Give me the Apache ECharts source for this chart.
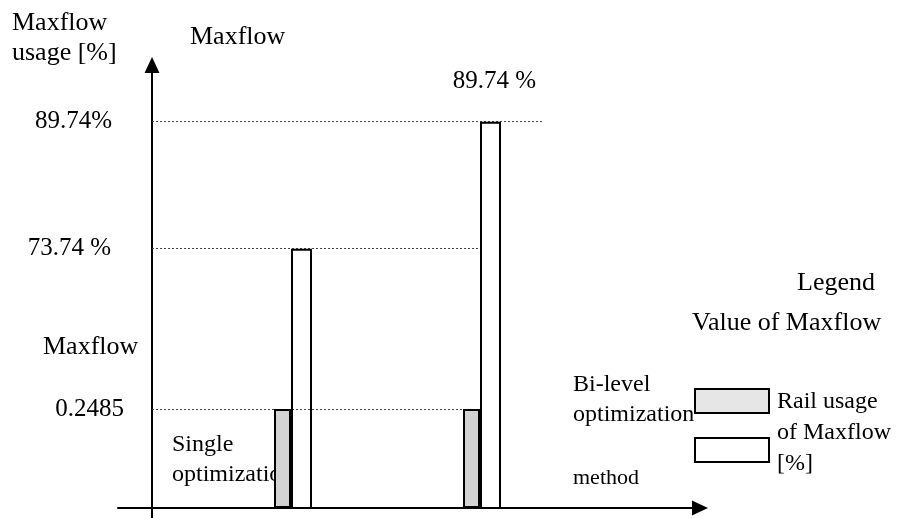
<!DOCTYPE html>
<html>
<head>
<meta charset="utf-8">
<script src="https://cdn.jsdelivr.net/npm/echarts@6/dist/echarts.min.js"></script>
<style>
  html, body { margin: 0; padding: 0; background: #fff; }
  #chart { width: 912px; height: 518px; }
</style>
</head>
<body>
<div id="chart"></div>
<script>
// data
const methods = ['Single optimization', 'Bi-level optimization']
const maxflowValue = [0.2485, 0.2485]
const railUsage = [73.74, 89.74]
const tickLabels = ['89.74%', '73.74 %', '0.2485']
const topLabel = '89.74 %'

const FONT = 'Liberation Serif'
const xStart = 0.254   // where the y axis sits on the method scale

function txt(str, x, y, size, lh) {
  return {
    type: 'text', x: x, y: y, z: 0,
    style: {
      text: str, fill: '#000', font: size + 'px "' + FONT + '"',
      verticalAlign: 'middle', align: 'left', lineHeight: lh || size * 1.2
    }
  }
}

const chart = echarts.init(document.getElementById('chart'))

const numLabel = {
  show: true, position: 'start', color: '#000',
  fontFamily: FONT, fontSize: 25
}
const guideStyle = { color: '#444', width: 1, type: [2, 2] }

const option = {
  animation: false,
  textStyle: { fontFamily: FONT },
  grid: [
    // axes with arrows
    { left: 118, right: 212, top: 65, bottom: 0 },
    // bars
    { left: 152, right: 368, top: 60, bottom: 10 }
  ],
  xAxis: [
    {
      type: 'value', gridIndex: 0, min: -34, max: 548,
      axisLine: { onZero: true, symbol: ['none', 'triangle'], symbolSize: [15, 16], lineStyle: { color: '#000', width: 2 } },
      axisTick: { show: false }, axisLabel: { show: false }, splitLine: { show: false }
    },
    {
      type: 'value', gridIndex: 1, min: xStart, max: 2.328, show: false
    }
  ],
  yAxis: [
    {
      type: 'value', gridIndex: 0, min: -10, max: 443,
      axisLine: { show: true, onZero: true, symbol: ['none', 'triangle'], symbolSize: [15, 16], lineStyle: { color: '#000', width: 2 } },
      axisTick: { show: false }, axisLabel: { show: false }, splitLine: { show: false }
    },
    { type: 'value', gridIndex: 1, min: 0, max: 1.125, show: false },
    { type: 'value', gridIndex: 1, min: 41.1, max: 97.5, show: false }
  ],
  legend: {
    orient: 'vertical', left: 694, top: 388, padding: 0,
    itemWidth: 74, itemHeight: 24, itemGap: 23,
    icon: 'rect', selectedMode: false,
    formatter: () => '',
    textStyle: { fontSize: 1 },
    itemStyle: { borderColor: '#000', borderWidth: 2 },
    data: [
      { name: 'Value of Maxflow', itemStyle: { color: '#e6e6e6' } },
      { name: 'Rail usage of Maxflow [%]', itemStyle: { color: '#fff' } }
    ]
  },
  series: [
    {
      name: 'Value of Maxflow', type: 'bar',
      xAxisIndex: 1, yAxisIndex: 1,
      barWidth: 17, barGap: 0, z: 2,
      itemStyle: { color: '#d3d3d3', borderColor: '#000', borderWidth: 2 },
      data: methods.map((m, i) => [i + 1, maxflowValue[i]])
    },
    {
      name: 'Rail usage of Maxflow [%]', type: 'bar',
      xAxisIndex: 1, yAxisIndex: 2,
      barWidth: 21, barGap: 0, z: 2,
      itemStyle: { color: 'rgba(255,255,255,0)', borderColor: '#000', borderWidth: 2 },
      data: methods.map((m, i) => ({
        value: [i + 1, railUsage[i]],
        label: {
          show: i === 1, position: 'top', distance: 25, offset: [4, 0],
          formatter: topLabel, color: '#000', fontFamily: FONT, fontSize: 25, lineHeight: 30
        }
      }))
    },
    // dotted guide lines from the y axis (kept off the bar series so they start on the axis)
    {
      type: 'line', xAxisIndex: 1, yAxisIndex: 1, data: [], silent: true,
      markLine: {
        z: 1, silent: true, symbol: ['none', 'none'], lineStyle: guideStyle,
        data: [
          [
            { coord: [xStart, maxflowValue[0]], label: Object.assign({}, numLabel, { formatter: tickLabels[2], distance: 28, padding: [6, 0, 0, 0] }) },
            { coord: [2, maxflowValue[1]] }
          ]
        ]
      }
    },
    {
      type: 'line', xAxisIndex: 1, yAxisIndex: 2, data: [], silent: true,
      markLine: {
        z: 1, silent: true, symbol: ['none', 'none'], lineStyle: guideStyle,
        data: [
          { yAxis: railUsage[1], label: Object.assign({}, numLabel, { formatter: tickLabels[0], distance: 40, padding: [0, 0, 6, 0] }) },
          [
            { coord: [xStart, railUsage[0]], label: Object.assign({}, numLabel, { formatter: tickLabels[1], distance: 41 }) },
            { coord: [2, railUsage[0]] }
          ]
        ]
      }
    }
  ],
  graphic: [
    txt('Maxflow\nusage [%]', 12, 38, 26, 30),
    txt('Maxflow', 190, 37, 26),
    txt('Maxflow', 43, 347, 26),
    txt('Single\noptimization', 172, 460, 24, 30),
    txt('Bi-level\noptimization', 573, 400, 24, 30),
    txt('method', 573, 478, 22),
    txt('Legend', 797, 283, 26),
    txt('Value of Maxflow', 692, 323, 26),
    txt('Rail usage\nof Maxflow\n[%]', 777, 433, 24, 31)
  ]
}

chart.setOption(option)
</script>
</body>
</html>
